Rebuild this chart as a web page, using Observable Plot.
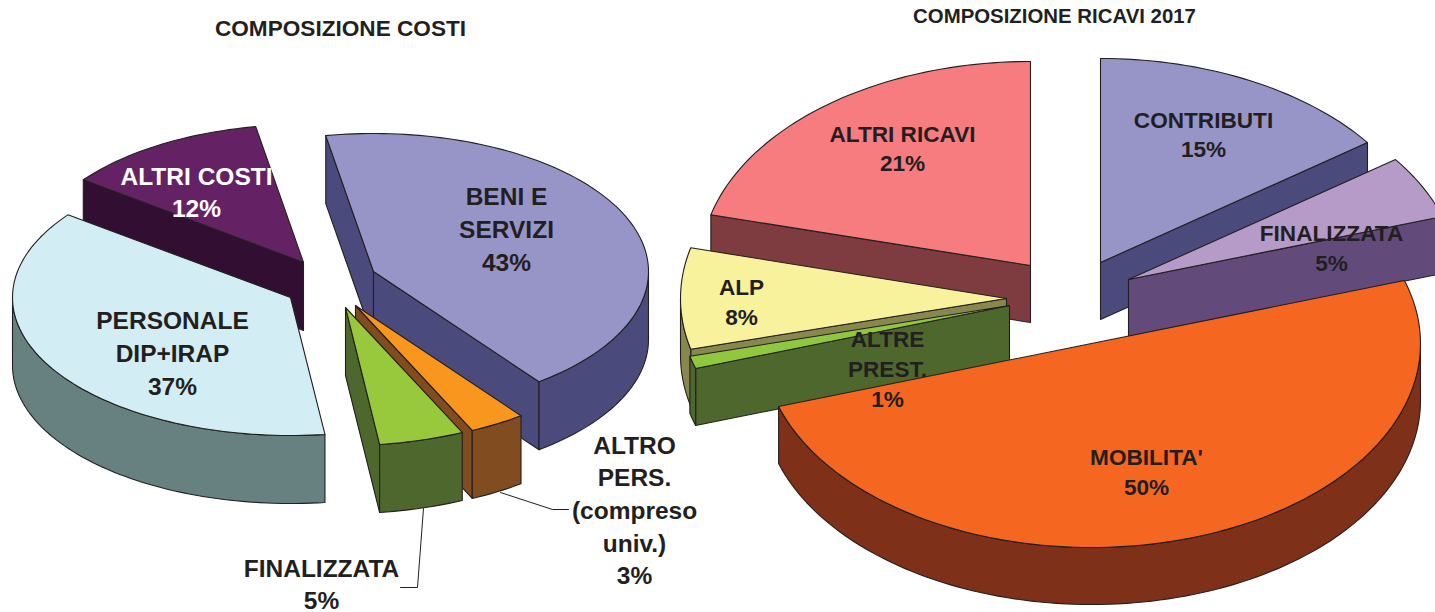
<!DOCTYPE html>
<html>
<head>
<meta charset="utf-8">
<script src="https://cdn.jsdelivr.net/npm/d3@7"></script>
<script src="https://cdn.jsdelivr.net/npm/@observablehq/plot@0.6"></script>
<style>
html,body{margin:0;padding:0;background:#fff;overflow:hidden}
svg{display:block}
</style>
</head>
<body>
<div id="chart"></div>
<script>
// ---- data ----
const costiCategories = ["BENI E\nSERVIZI", "ALTRO\nPERS.\n(compreso\nuniv.)", "FINALIZZATA", "PERSONALE\nDIP+IRAP", "ALTRI COSTI"];
const costiValues = [42.5, 3.3, 5.0, 37.2, 12.0];
const ricaviCategories = ["CONTRIBUTI", "FINALIZZATA", "MOBILITA'", "ALTRE\nPREST.", "ALP", "ALTRI RICAVI"];
const ricaviValues = [15, 5, 50, 1, 8, 21];

// ---- styles ----
const costiTop = ["#9795C7", "#F9961D", "#98C93C", "#D3EDF4", "#642265"];
const costiWall = ["#4B4A7C", "#804C20", "#4E672C", "#668180", "#320F32"];
const ricaviTop = ["#9795C7", "#B69AC7", "#F56620", "#8FC73E", "#F7F29B", "#F67C80"];
const ricaviWall = ["#4B4A7C", "#624A7A", "#7E3118", "#4E672C", "#88874F", "#7E3C40"];

// ---- layout: exploded wedge apexes, radii, label anchors, paint order ----
const costiPie = {start: -10, ry: 138, depth: 68};
const ricaviPie = {start: 0, ry: 204, depth: 57};
const costiRx = [275, 275, 275, 278, 275];
const ricaviRx = [330, 330, 329, 330, 326, 330];
const costiApex = [[373, 271], [355, 305], [345, 307], [290, 297], [303, 262]];
const ricaviApex = [[1100, 262], [1128, 279], [1091, 343], [1009, 305], [1006, 298], [1030, 265]];
const costiOrder = [4, 0, 1, 2, 3];
const ricaviOrder = [5, 0, 1, 4, 3, 2];
const costiLabelAt = [[506, 227], [634, 508], [321, 582], [172, 351], [196, 190]];
const ricaviLabelAt = [[1203, 132.5], [1331, 246], [1146, 470], [887, 367], [741, 300], [902, 146.5]];
const costiLabelFill = ["#231F20", "#231F20", "#231F20", "#231F20", "#FFFFFF"];
const leaders = [
  [[423, 508], [417, 587], [400, 587]],
  [[500, 492], [552, 509], [568, 509]]
];

const polygons = [];
let polyId = 0;
function addPoly(points, fill) {
  const id = polyId++;
  for (const [x, y] of [...points, points[0]]) polygons.push({x, y, id, fill});
}
function slicesOf(values, pie, rxs, apex, tops, walls, order) {
  const degs = [];
  let a = pie.start;
  values.forEach(v => { degs.push([a, a + v * 3.6]); a += v * 3.6; });
  for (const i of order) {
    const [a0, a1] = degs[i];
    const [cx, cy] = apex[i];
    const P = d => {
      const r = d * Math.PI / 180;
      return [cx + rxs[i] * Math.sin(r), cy - pie.ry * Math.cos(r)];
    };
    const arcPts = (from, to) => d3.range(from, to, 1.5).concat([to]).map(P);
    const drop = ([x, y]) => [x, y + pie.depth];
    const quad = (pts) => addPoly([...pts, ...pts.map(drop).reverse()], walls[i]);
    const s = P(a0), e = P(a1);
    // only faces that look towards the viewer
    if (s[0] < cx) quad([[cx, cy], s]);
    if (e[0] > cx) quad([e, [cx, cy]]);
    const f0 = Math.max(a0, 90), f1 = Math.min(a1, 270);
    if (f1 > f0) quad(arcPts(f0, f1));
    addPoly([[cx, cy], ...arcPts(a0, a1)], tops[i]);
  }
}
slicesOf(costiValues, costiPie, costiRx, costiApex, costiTop, costiWall, costiOrder);
slicesOf(ricaviValues, ricaviPie, ricaviRx, ricaviApex, ricaviTop, ricaviWall, ricaviOrder);

const labels = (cats, vals, at, fills) => cats.map((c, i) => ({
  text: c + "\n" + Math.round(vals[i]) + "%", x: at[i][0], y: at[i][1], fill: fills ? fills[i] : "#231F20"
}));
const costiLabels = labels(costiCategories, costiValues, costiLabelAt, costiLabelFill);
const ricaviLabels = labels(ricaviCategories, ricaviValues, ricaviLabelAt);
const leaderPts = leaders.flatMap((l, k) => l.map(([x, y]) => ({x, y, k})));
const font = '"Liberation Sans", Arial, sans-serif';

const chart = Plot.plot({
  width: 1435, height: 612,
  marginTop: 0, marginRight: 0, marginBottom: 0, marginLeft: 0,
  style: {background: "#fff", fontFamily: font},
  x: {axis: null, domain: [0, 1435], range: [0, 1435]},
  y: {axis: null, domain: [0, 612], range: [0, 612]},
  color: {type: "identity"},
  marks: [
    Plot.line(polygons, {x: "x", y: "y", z: "id", fill: "fill", stroke: "#231F20", strokeWidth: 1.1, strokeLinejoin: "round", curve: "linear"}),
    Plot.line(leaderPts, {x: "x", y: "y", z: "k", stroke: "#231F20", strokeWidth: 1}),
    Plot.text(costiLabels, {x: "x", y: "y", text: "text", fill: "fill", fontSize: 24.5, fontWeight: "bold", lineHeight: 1.33, textAnchor: "middle", fontFamily: font}),
    Plot.text(ricaviLabels, {x: "x", y: "y", text: "text", fill: "fill", fontSize: 22.6, fontWeight: "bold", lineHeight: 1.32, textAnchor: "middle", fontFamily: font}),
    Plot.text(["COMPOSIZIONE COSTI"], {x: [340], y: [28], text: d => d, fill: "#231F20", fontSize: 22.6, fontWeight: "bold", fontFamily: font}),
    Plot.text(["COMPOSIZIONE RICAVI 2017"], {x: [1054], y: [16], text: d => d, fill: "#231F20", fontSize: 20.4, fontWeight: "bold", fontFamily: font})
  ]
});
document.getElementById("chart").append(chart);
</script>
</body>
</html>
